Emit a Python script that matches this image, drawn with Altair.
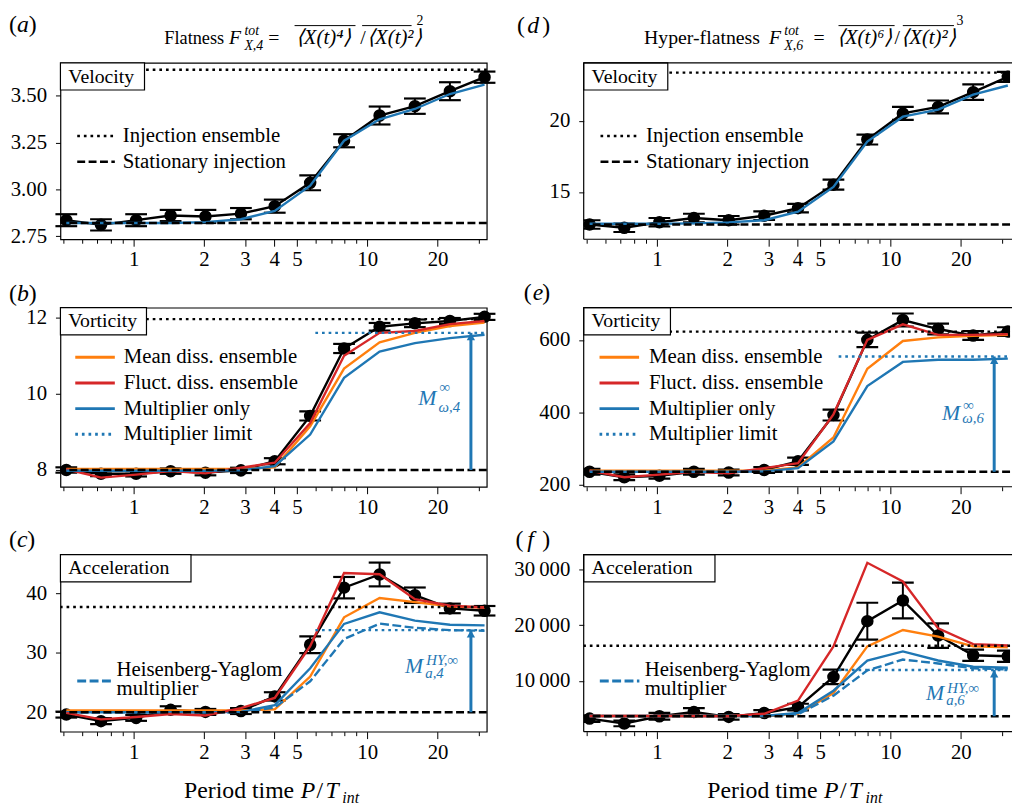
import altair as alt
import pandas as pd

# ---------------- data ----------------
P = [0.515, 0.725, 1.025, 1.44, 2.03, 2.88, 4.02, 5.7, 7.96, 11.3, 16.0, 22.6, 31.8]

# (a) velocity flatness
vel4_inj = [2.835, 2.81, 2.835, 2.86, 2.855, 2.87, 2.91, 3.035, 3.26, 3.395, 3.445, 3.525, 3.60]
vel4_err = [0.032, 0.03, 0.032, 0.03, 0.035, 0.03, 0.035, 0.04, 0.035, 0.048, 0.041, 0.048, 0.03]
vel4_mult = [2.82, 2.82, 2.82, 2.82, 2.825, 2.84, 2.885, 3.02, 3.26, 3.375, 3.43, 3.51, 3.56]
vel4_level, vel4_stat = 3.64, 2.82

# (d) velocity hyper-flatness
vel6_inj = [12.70, 12.47, 12.86, 13.16, 13.0, 13.32, 13.85, 15.51, 18.69, 20.53, 20.99, 22.03, 23.11]
vel6_err = [0.3, 0.3, 0.3, 0.3, 0.3, 0.3, 0.3, 0.35, 0.35, 0.46, 0.45, 0.55, 0.35]
vel6_mult = [12.75, 12.75, 12.75, 12.78, 12.85, 13.0, 13.6, 15.35, 18.55, 20.3, 20.8, 21.85, 22.5]
vel6_level, vel6_stat = 23.41, 12.70

# (b) vorticity flatness
vor4_inj = [8.0, 7.9, 7.9, 7.97, 7.93, 7.99, 8.23, 9.42, 11.19, 11.76, 11.85, 11.91, 12.02]
vor4_err = [0.07, 0.06, 0.07, 0.07, 0.07, 0.07, 0.08, 0.12, 0.12, 0.1, 0.1, 0.08, 0.08]
vor4_mean = [8.03, 8.03, 8.03, 8.03, 8.03, 8.03, 8.07, 9.15, 10.66, 11.35, 11.6, 11.78, 11.87]
vor4_fluct = [8.02, 7.8, 7.88, 7.97, 7.91, 8.06, 8.19, 9.23, 11.0, 11.6, 11.65, 11.83, 11.91]
vor4_mult = [7.98, 7.98, 7.98, 7.98, 7.98, 7.99, 8.1, 8.93, 10.42, 11.11, 11.33, 11.46, 11.55]
vor4_level, vor4_stat, vor4_limit = 11.96, 8.0, 11.6

# (e) vorticity hyper-flatness
vor6_inj = [235, 220, 224, 235, 233, 240, 264, 392, 600, 655, 630, 612, 623]
vor6_err = [8, 8, 8, 8, 8, 8, 10, 15, 20, 18, 15, 12, 12]
vor6_mean = [238, 238, 238, 238, 238, 238, 247, 330, 520, 597, 607, 611, 614]
vor6_fluct = [238, 220, 227, 235, 231, 245, 259, 394, 600, 643, 614, 614, 616]
vor6_mult = [235, 235, 235, 235, 235, 236, 245, 319, 472, 539, 545, 545, 548]
vor6_level, vor6_stat, vor6_limit = 623, 235, 554

# (c) acceleration flatness
acc4_inj = [19.6, 18.5, 19.05, 20.4, 20.05, 20.2, 22.66, 31.35, 40.94, 43.16, 39.67, 37.45, 37.06]
acc4_err = [0.5, 0.5, 0.5, 0.6, 0.5, 0.5, 0.7, 1.4, 1.8, 2.0, 1.3, 0.8, 0.8]
acc4_mean = [20.3, 20.3, 20.3, 20.3, 20.3, 20.3, 20.5, 26.0, 35.96, 39.2, 38.5, 37.8, 37.6]
acc4_fluct = [19.9, 18.8, 19.2, 19.7, 19.45, 20.7, 22.4, 31.1, 43.4, 43.2, 39.0, 37.9, 37.6]
acc4_mult = [20.0, 20.0, 20.0, 20.0, 20.0, 20.05, 21.2, 27.4, 34.85, 36.8, 35.4, 34.7, 34.6]
acc4_hy = [20.0, 20.0, 20.0, 20.0, 20.0, 20.0, 20.8, 25.2, 32.3, 34.9, 34.2, 33.8, 33.7]
acc4_level, acc4_stat, acc4_limit = 37.7, 20.0, 33.8

# (f) acceleration hyper-flatness
acc6_inj = [3235, 2353, 3647, 4412, 3529, 4235, 5294, 10706, 20706, 24412, 18118, 14588, 14412]
acc6_err = [600, 500, 600, 700, 500, 500, 600, 1300, 3300, 3200, 2200, 1000, 1000]
acc6_mean = [3700, 3700, 3700, 3700, 3700, 3700, 4100, 7820, 16180, 19120, 17940, 16180, 16000]
acc6_fluct = [3700, 3700, 3700, 3700, 3650, 4100, 6470, 16180, 31180, 27820, 19410, 16590, 16350]
acc6_mult = [3700, 3700, 3700, 3700, 3700, 3700, 4235, 8235, 13650, 15290, 13650, 12530, 12350]
acc6_hy = [3700, 3700, 3700, 3700, 3700, 3700, 4000, 7350, 11880, 13820, 13120, 12240, 12060]
acc6_level, acc6_stat, acc6_limit = 16290, 3650, 11940

LIMIT_START = 6.0
ARROW_X = 27.8
X_DOMAIN = [0.486, 32.5]
X_TICKS = [0.5, 0.6, 0.7, 0.8, 0.9, 1, 2, 3, 4, 5, 6, 7, 8, 9, 10, 20, 30]
X_LABELED = [1, 2, 3, 4, 5, 10, 20]

# ---------------- style ----------------
FONT = "Liberation Serif, Times New Roman, Times, serif"
BLUE, ORANGE, RED = "#1f77b4", "#ff7f0e", "#d62728"
DOT = [2.7, 4]
DASH = [8, 3.5]
HYDASH = [9, 3.5]
LW = 2.4
LEG = 21
W = 431
HEIGHTS = [178.4, 181, 179]
ONE = pd.DataFrame({"k": [0]})

lab_list = "[" + ",".join(str(v) for v in X_LABELED) + "]"
X_AXIS = alt.Axis(
    values=X_TICKS, title=None, grid=False, domain=False,
    labelExpr=f"indexof({lab_list}, datum.value) >= 0 ? datum.value + '' : ''",
    tickSize={"condition": {"test": f"indexof({lab_list}, datum.value) >= 0", "value": 7}, "value": 4},
    tickColor="black", tickWidth=1, labelFont=FONT, labelFontSize=21, labelColor="black",
    labelPadding=3, labelFlush=False, labelOverlap=False,
)


def y_axis(vals, fmt=None, expr=None):
    kw = dict(values=vals, title=None, grid=False, domain=False, tickSize=5, tickColor="black",
              tickWidth=1, labelFont=FONT, labelFontSize=21, labelColor="black", labelPadding=9,
              labelFlush=False, labelOverlap=False)
    if fmt:
        kw["format"] = fmt
    if expr:
        kw["labelExpr"] = expr
    return alt.Axis(**kw)


def txt(s, x, y, size=LEG, style="normal", color="black", align="left", baseline="middle"):
    return alt.Chart(ONE).mark_text(text=s, font=FONT, fontSize=size, fontStyle=style, color=color,
                                    align=align, baseline=baseline).encode(x=alt.value(x), y=alt.value(y))


def seg(x1, x2, y, color="black", dash=None, width=LW):
    kw = dict(color=color, strokeWidth=width)
    if dash:
        kw["strokeDash"] = dash
    return alt.Chart(ONE).mark_rule(**kw).encode(x=alt.value(x1), x2=alt.value(x2), y=alt.value(y))


def vseg(x, y1, y2, color="black", width=1.2):
    return alt.Chart(ONE).mark_rule(color=color, strokeWidth=width).encode(
        x=alt.value(x), y=alt.value(y1), y2=alt.value(y2))


def box(label, w):
    r = alt.Chart(ONE).mark_rect(fill="white", stroke="black", strokeWidth=1.2).encode(
        x=alt.value(0), x2=alt.value(w), y=alt.value(0), y2=alt.value(27.5))
    return [r, txt(label, 8, 14, size=20)]


def panel_label(letter, x0, xl, xr, y):
    return [txt("(", x0, y, size=24), txt(letter, xl, y, size=24, style="italic"), txt(")", xr, y, size=24)]


def panel(inj, err, lines, level, stat, limit, ydom, yaxis, height, right, extras):
    clip = right
    xs = alt.Scale(type="log", domain=X_DOMAIN, nice=False)
    ys = alt.Scale(domain=ydom, nice=False, zero=False)

    def X(f):
        return alt.X(f, type="quantitative", scale=xs, axis=X_AXIS)

    def Y(f):
        return alt.Y(f, type="quantitative", scale=ys, axis=yaxis)

    df = pd.DataFrame({"P": P, "v": inj,
                       "lo": [a - b for a, b in zip(inj, err)],
                       "hi": [a + b for a, b in zip(inj, err)]})
    L = []
    L.append(alt.Chart(df).mark_rule(color="black", strokeWidth=2, clip=clip).encode(
        x=X("P"), y=Y("lo"), y2=alt.Y2("hi")))
    for f in ["lo", "hi"]:
        L.append(alt.Chart(df).mark_tick(orient="horizontal", size=22, thickness=2.2, color="black",
                                         opacity=1, clip=clip).encode(x=X("P"), y=Y(f)))
    L.append(alt.Chart(df).mark_line(color="black", strokeWidth=LW, clip=clip).encode(x=X("P"), y=Y("v")))
    L.append(alt.Chart(df).mark_circle(color="black", size=160, opacity=1, clip=clip).encode(
        x=X("P"), y=Y("v")))
    for vals, color, dash in lines:
        d = pd.DataFrame({"P": P, "v": vals})
        kw = dict(color=color, strokeWidth=LW, clip=clip)
        if dash:
            kw["strokeDash"] = dash
        L.append(alt.Chart(d).mark_line(**kw).encode(x=X("P"), y=Y("v")))
    L.append(alt.Chart(pd.DataFrame({"y": [level]})).mark_rule(
        color="black", strokeDash=DOT, strokeWidth=LW).encode(y=Y("y")))
    L.append(alt.Chart(pd.DataFrame({"y": [stat]})).mark_rule(
        color="black", strokeDash=DASH, strokeWidth=LW).encode(y=Y("y")))
    if limit is not None:
        ld = pd.DataFrame({"x0": [LIMIT_START], "x1": [X_DOMAIN[1]], "y": [limit]})
        L.append(alt.Chart(ld).mark_rule(color=BLUE, strokeDash=DOT, strokeWidth=LW).encode(
            x=X("x0"), x2=alt.X2("x1"), y=Y("y")))
        ad = pd.DataFrame({"x": [ARROW_X], "y0": [stat], "y1": [limit]})
        L.append(alt.Chart(ad).mark_rule(color=BLUE, strokeWidth=3).encode(
            x=X("x"), y=Y("y0"), y2=alt.Y2("y1")))
        L.append(alt.Chart(ad).mark_point(shape="M0,0L-1,1.8L1,1.8Z", filled=True, size=70,
                                          color=BLUE, opacity=1).encode(x=X("x"), y=Y("y1")))
    L.extend(extras)
    props = dict(width=W, height=height)
    if right:
        # the reference is cut at the right edge of the picture: no right border
        L.extend([seg(0, W + 2, 0, "black", None, 1.2), seg(0, W + 2, height, "black", None, 1.2),
                  vseg(0, 0, height)])
        props["view"] = alt.ViewBackground(stroke=None)
    return alt.layer(*L).properties(**props)


# ---------------- annotations ----------------
legend_vel = [
    seg(17, 55, 74, "black", DOT, 2.5), txt("Injection ensemble", 63, 74),
    seg(17, 55, 100, "black", DASH, 2.5), txt("Stationary injection", 63, 100),
]


def legend_vor(xs, xt):
    rows = [("Mean diss. ensemble", ORANGE, None), ("Fluct. diss. ensemble", RED, None),
            ("Multiplier only", BLUE, None), ("Multiplier limit", BLUE, DOT)]
    out = []
    for i, (t, c, d) in enumerate(rows):
        y = 50 + 26 * i
        out.append(seg(xs[0], xs[1], y, c, d, 3))
        out.append(txt(t, xt, y))
    return out


def legend_acc(xs, xt):
    return [seg(xs[0], xs[1], 127.7, BLUE, HYDASH, 3),
            txt("Heisenberg-Yaglom", xt, 116.7), txt("multiplier", xt, 135.7)]


def m_label(x, y, sup, sub, ysup, ysub):
    return [txt("M", x, y, size=22, style="italic", color=BLUE),
            txt(sup, x + 21.5, ysup, size=15, style="italic", color=BLUE),
            txt(sub, x + 20.5, ysub, size=15, style="italic", color=BLUE)]


def xtitle():
    return [txt("Period time", 125, 246, size=24, baseline="alphabetic"),
            txt("P", 243, 246, size=24, style="italic", baseline="alphabetic"),
            txt("/", 259, 246, size=24, baseline="alphabetic"),
            txt("T", 268, 246, size=24, style="italic", baseline="alphabetic"),
            txt("int", 285, 251, size=16, style="italic", baseline="alphabetic")]


anchor = alt.Chart(ONE).mark_rect(opacity=0).encode(
    x=alt.value(-52), x2=alt.value(-51), y=alt.value(-50.3), y2=alt.value(-49.3))


def title(word, wsize, xw, xf, sub, xeq, xg1, xsl, xg2, ol1, ol2, parts, xpow):
    return [
        txt(word, xw, -19.5, size=wsize, baseline="alphabetic"),
        txt("F", xf, -19.5, size=20, style="italic", baseline="alphabetic"),
        txt("tot", xf + 15.5, -28.3, size=14, style="italic", baseline="alphabetic"),
        txt(sub, xf + 15.5, -13.3, size=14, style="italic", baseline="alphabetic"),
        txt("=", xeq, -19.5, size=20, baseline="alphabetic"),
        txt(parts[0], xg1, -19.5, size=21, style="italic", baseline="alphabetic"),
        txt("/", xsl, -19.5, size=20, baseline="alphabetic"),
        txt(parts[1], xg2, -19.5, size=21, style="italic", baseline="alphabetic"),
        seg(ol1[0], ol1[1], -37.6, "black", None, 1),
        seg(ol2[0], ol2[1], -37.6, "black", None, 1),
        txt(parts[2], xpow, -38.5, size=14, baseline="alphabetic"),
    ]


title_a = title("Flatness", 18.5, 105, 170.5, "X,4", 210, 238, 303, 310, (236.7, 298.3), (305, 355),
                ["⟨X(t)⁴⟩", "⟨X(t)²⟩", "2"], 360)
title_d = title("Hyper-flatness", 20, 61, 187.3, "X,6", 232.3, 256, 314.3, 321, (257.6, 314.3),
                (322.6, 374.3), ["⟨X(t)⁶⟩", "⟨X(t)²⟩", "3"], 377)

thin = "\u2009"

pa = panel(vel4_inj, vel4_err, [(vel4_mult, BLUE, None)], vel4_level, vel4_stat, None,
           [2.733, 3.677], y_axis([2.75, 3.0, 3.25, 3.5], fmt=".2f"), HEIGHTS[0], False,
           [anchor] + box("Velocity", 85) + legend_vel + title_a + panel_label("a", -52, -44, -32, -38.3))

pd_ = panel(vel6_inj, vel6_err, [(vel6_mult, BLUE, None)], vel6_level, vel6_stat, None,
            [11.66, 24.10], y_axis([15, 20]), HEIGHTS[0], True,
            box("Velocity", 85) + legend_vel + title_d + panel_label("d", -67.4, -57, -42, -37.5))

pb = panel(vor4_inj, vor4_err, [(vor4_mean, ORANGE, None), (vor4_fluct, RED, None), (vor4_mult, BLUE, None)],
           vor4_level, vor4_stat, vor4_limit, [7.56, 12.26], y_axis([8, 10, 12]), HEIGHTS[1], False,
           box("Vorticity", 87) + legend_vor((15, 55), 64)
           + m_label(361.7, 91.7, "∞", "ω,4", 80, 100) + panel_label("b", -52, -44, -32, -14.2))

pe = panel(vor6_inj, vor6_err, [(vor6_mean, ORANGE, None), (vor6_fluct, RED, None), (vor6_mult, BLUE, None)],
           vor6_level, vor6_stat, vor6_limit, [193.6, 689], y_axis([200, 400, 600]), HEIGHTS[1], True,
           box("Vorticity", 87.7) + legend_vor((16, 56), 66)
           + m_label(362.3, 106.5, "∞", "ω,6", 98, 112) + panel_label("e", -60.7, -51.5, -42, -14.3))

pc = panel(acc4_inj, acc4_err, [(acc4_mean, ORANGE, None), (acc4_mult, BLUE, None), (acc4_hy, BLUE, HYDASH),
                                (acc4_fluct, RED, None)],
           acc4_level, acc4_stat, acc4_limit, [16.73, 46.5], y_axis([20, 30, 40]), HEIGHTS[2], False,
           box("Acceleration", 132) + legend_acc((17, 53), 56.7)
           + m_label(348.3, 112.5, "HY,∞", "a,4", 106.7, 120) + xtitle()
           + panel_label("c", -52, -44, -33.5, -15))

pf = panel(acc6_inj, acc6_err, [(acc6_mean, ORANGE, None), (acc6_mult, BLUE, None), (acc6_hy, BLUE, HYDASH),
                                (acc6_fluct, RED, None)],
           acc6_level, acc6_stat, acc6_limit, [882, 32647],
           y_axis([10000, 20000, 30000], expr=f"replace(format(datum.value, ','), ',', '{thin}')"),
           HEIGHTS[2], True,
           box("Acceleration", 132.7) + legend_acc((16.3, 56.3), 61.6)
           + m_label(346, 140, "HY,∞", "a,6", 135, 146.7) + xtitle()
           + panel_label("f", -69, -57, -42, -15))

chart = alt.concat(pa, pd_, pb, pe, pc, pf, columns=2, spacing={"row": 68.6, "column": 98},
                   bounds="flush").properties(padding=0).configure_view(stroke="black", strokeWidth=1.2)

chart.save("out.html", embed_options={"renderer": "svg", "actions": False})
